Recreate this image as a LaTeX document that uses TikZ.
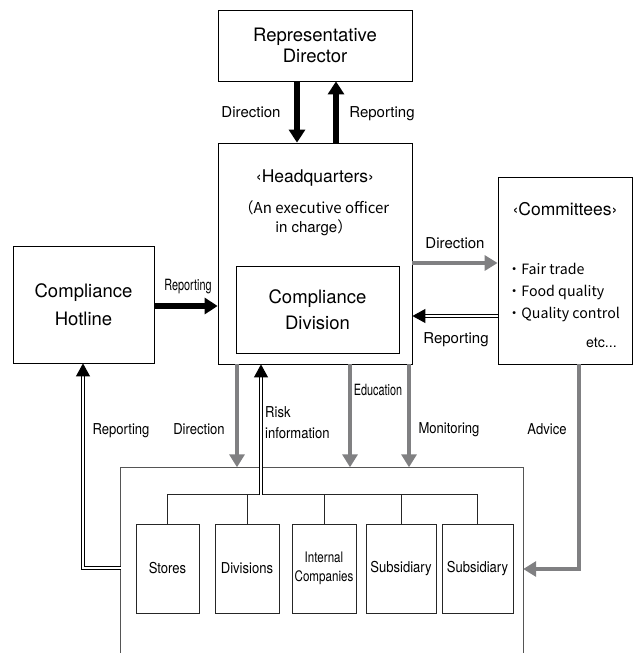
\documentclass[tikz,border=0pt]{standalone}
\usepackage{fontspec}
\setmainfont{TeX Gyre Heros}
\newfontfamily\condB[FakeStretch=0.87]{TeX Gyre Heros}
\newfontfamily\condC[FakeStretch=0.7]{TeX Gyre Heros}
\newfontfamily\condD[FakeStretch=0.8]{TeX Gyre Heros}
\newfontfamily\cjk{Noto Sans CJK JP}
\usetikzlibrary{arrows.meta}
\definecolor{arrgray}{RGB}{128,128,130}
\definecolor{lightline}{RGB}{85,85,85}
\tikzset{
  box/.style={draw=black, line width=0.8pt, inner sep=0pt, align=center, font=\fontsize{18.5}{21}\selectfont},
  kid/.style={draw=black!85, line width=0.7pt, minimum height=89pt, inner sep=0pt, align=center, font=\condB\fontsize{15}{18}\selectfont},
  tree/.style={draw=black!85, line width=0.7pt},
  orgline/.style={draw=lightline, line width=0.8pt},
  barrow/.style={draw=black, line width=5.5pt, -{Triangle[width=16pt,length=13pt]}},
  garrow/.style={draw=arrgray, color=arrgray, line width=4.7pt, -{Triangle[width=15pt,length=13pt]}},
  dblarrow/.style={draw=black, double=white, double distance=1.8pt, line width=1pt, -{Triangle[width=14pt,length=13pt]}},
  lab/.style={font=\fontsize{15}{18}\selectfont, inner sep=0pt, text height=10.8pt, text depth=0pt},
  labn/.style={font=\condB\fontsize{15}{18}\selectfont, inner sep=0pt, text height=10.8pt, text depth=0pt},
  labc/.style={font=\condC\fontsize{15.5}{18}\selectfont, inner sep=0pt, text height=11pt, text depth=0pt},
  bul/.style={font=\fontsize{14.2}{18}\selectfont, inner sep=0pt, text height=10.2pt, text depth=0pt, anchor=west},
}
\begin{document}
\begin{tikzpicture}[x=1pt,y=-1pt]
\useasboundingbox (0,0) rectangle (637,653);

% column / row coordinates
\coordinate (cDir) at (297,0);
\coordinate (cRep) at (336,0);
\coordinate (cDirD) at (237,0);
\coordinate (cRisk) at (261,0);
\coordinate (cEdu) at (350,0);
\coordinate (cMon) at (409,0);
\coordinate (cAdv) at (579,0);
\coordinate (cHl) at (83,0);
\coordinate (rHot) at (0,306);
\coordinate (rDirC) at (0,263);
\coordinate (rRepC) at (0,316);
\coordinate (rAdv) at (0,569);
\coordinate (rHl) at (0,568);
\coordinate (bus) at (0,494.5);

% boxes
\node[box, minimum width=194pt, minimum height=71pt] (rep) at (315,45.5) {Representative\\Director};
\node[box, minimum width=194pt, minimum height=221pt] (hq) at (315,253.5) {};
\node[font=\fontsize{17.5}{20}\selectfont, inner sep=0pt, text height=12pt, text depth=0pt] (hqt) at (315,176) {‹Headquarters›};
\node[font=\fontsize{15}{19}\selectfont, align=center, inner sep=0pt] (hqs) at (314,218.5) {\cjk{（}An executive officer\\in charge\cjk{）}};
\node[box, minimum width=163pt, minimum height=87pt, font=\fontsize{18.5}{26}\selectfont] (cd) at (317.5,309.5) {Compliance\\Division};
\node[box, minimum width=141pt, minimum height=117pt, font=\fontsize{18.5}{28}\selectfont] (hl) at (83.5,304.5) {Compliance\\Hotline};
\node[box, minimum width=134pt, minimum height=187pt] (comm) at (565,270.5) {};
\node[font=\fontsize{17.5}{20}\selectfont, inner sep=0pt, text height=12pt, text depth=0pt] (commt) at (565,209) {‹Committees›};
\node[bul] (b1) at (507,269) {\cjk{・}Fair trade};
\node[bul] (b2) at (507,291) {\cjk{・}Food quality};
\node[bul] (b3) at (507,313) {\cjk{・}Quality control};
\node[bul, anchor=east] (etc) at (617,342) {etc...};

% organisation box (open at the bottom)
\node[minimum width=402pt, minimum height=190pt, inner sep=0pt] (org) at (322,562.5) {};
\draw[orgline] (org.south west) -- (org.north west) -- (org.north east) -- (org.south east);

\node[kid, minimum width=63pt] (stores) at (167.5,568.5) {Stores};
\node[kid, minimum width=64pt] (divs) at (247,568.5) {Divisions};
\node[kid, minimum width=64pt, font=\condD\fontsize{14.5}{19}\selectfont] (intc) at (324,568.5) {Internal\\Companies};
\node[kid, minimum width=70pt] (sub1) at (401,568.5) {Subsidiary};
\node[kid, minimum width=71pt] (sub2) at (477.5,568.5) {Subsidiary};

\draw[tree] (stores.north) -- (stores.north |- bus) -- (sub2.north |- bus) -- (sub2.north);
\draw[tree] (divs.north) -- (divs.north |- bus);
\draw[tree] (intc.north) -- (intc.north |- bus);
\draw[tree] (sub1.north) -- (sub1.north |- bus);

% arrows
\draw[barrow] (rep.south -| cDir) -- (hq.north -| cDir);
\draw[barrow] (hq.north -| cRep) -- (rep.south -| cRep);
\draw[barrow] (hl.east |- rHot) -- (hq.west |- rHot);
\draw[garrow] (hq.east |- rDirC) -- (comm.west |- rDirC);
\draw[dblarrow] (comm.west |- rRepC) -- (hq.east |- rRepC);
\draw[garrow] (hq.south -| cDirD) -- (org.north -| cDirD);
\draw[garrow] (hq.south -| cEdu) -- (org.north -| cEdu);
\draw[garrow] (hq.south -| cMon) -- (org.north -| cMon);
\draw[garrow] (comm.south -| cAdv) -- (cAdv |- rAdv) -- (org.east |- rAdv);
\draw[dblarrow] (cRisk |- bus) -- (hq.south -| cRisk);
\draw[dblarrow] (org.west |- rHl) -- (cHl |- rHl) -- (hl.south -| cHl);

% labels
\node[lab] (lDir1) at (251,112) {Direction};
\node[lab] (lRep1) at (382,112) {Reporting};
\node[labc] (lRepH) at (188,285) {Reporting};
\node[lab] (lDirC) at (455,243) {Direction};
\node[lab] (lRepC) at (456,338) {Reporting};
\node[labn] (lDirD) at (199,429) {Direction};
\node[labn] (lRepD) at (121,429) {Reporting};
\node[font=\condB\fontsize{15}{21}\selectfont, inner sep=0pt, anchor=west, align=left] (lRisk) at (265,422.5) {Risk\\information};
\node[labc] (lEdu) at (378,390) {Education};
\node[labn] (lMon) at (449,428) {Monitoring};
\node[labn] (lAdv) at (547,429) {Advice};
\end{tikzpicture}
\end{document}
